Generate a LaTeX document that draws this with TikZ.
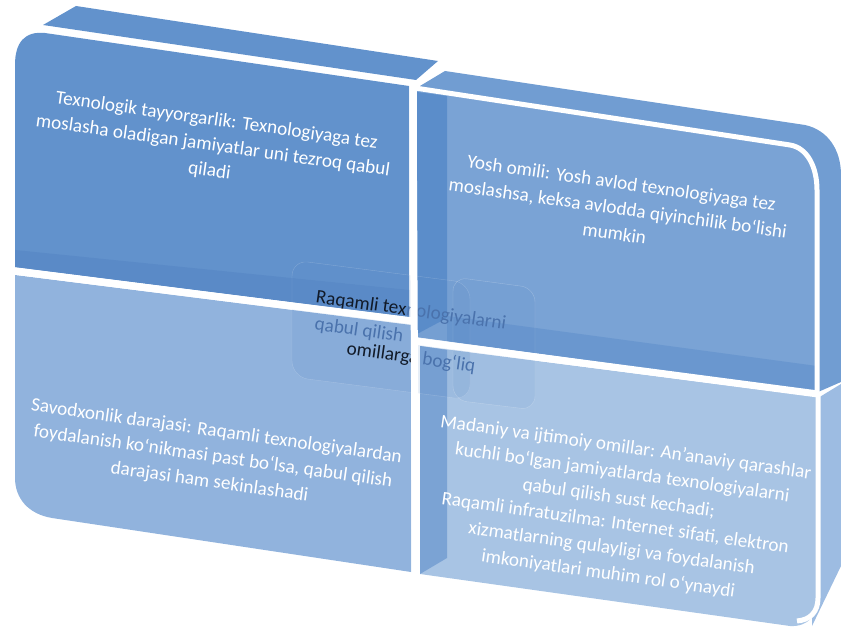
\documentclass[tikz,border=0pt]{standalone}
\usepackage{fontspec}
\setmainfont{Carlito}
\definecolor{tlblue}{HTML}{6292CC}
\definecolor{tldeep}{HTML}{5A8AC7}
\definecolor{trblue}{HTML}{7AA3D5}
\definecolor{trside}{HTML}{719DD2}
\definecolor{trdeep}{HTML}{5B8DCA}
\definecolor{trbase}{HTML}{6A97CF}
\definecolor{blblue}{HTML}{91B3DD}
\definecolor{brblue}{HTML}{A8C4E4}
\definecolor{brside}{HTML}{9DBCE2}
\definecolor{brdeep}{HTML}{7BA3D4}
\definecolor{hubdark}{HTML}{111A28}
\definecolor{hubfade}{HTML}{4A72AC}
\begin{document}
\begin{tikzpicture}[x=1pt,y=-1pt,
  cell/.style={text=white,font=\fontsize{19.2}{25.5}\selectfont,align=center,rotate=-8,inner sep=0pt},
  hub/.style={font=\fontsize{19.2}{25}\selectfont,rotate=-8,inner sep=0pt},
  gap/.style={white,line width=7pt},
  rim/.style={white,line width=5pt},
  ]
\useasboundingbox (0,0) rectangle (841,628);

\fill[tlblue] (43,25) -- (76,6) -- (438,61) -- (416,80) -- cycle;
\fill[tlblue] (15,267) -- (15,65) .. controls (15,42) and (25,31) .. (45,33) -- (409,86) -- (409,317) -- cycle;
\fill[tldeep] (15,250) -- (409,290) -- (409,317) -- (15,267) -- cycle;

\fill[trside] (420,86) -- (445,71) -- (805,125) .. controls (828,130) and (841,150) .. (841,175) -- (841,382) -- (818,392) -- (417,337) -- cycle;
\fill[trblue] (417,90) -- (790,145) .. controls (808,148) and (817,168) .. (817,190) -- (817,390) -- (417,337) -- cycle;
\fill[trdeep] (417,92) -- (447,96) -- (447,318) -- (417,334) -- cycle;
\fill[trbase] (447,316) -- (817,366) -- (817,391) -- (447,341) -- cycle;

\fill[blblue] (15,275) -- (411,325) -- (411,572) -- (52,518) .. controls (28,514) and (15,498) .. (15,478) -- cycle;

\fill[brside] (818,398) -- (841,384) -- (841,566) -- (812,626) -- cycle;
\fill[brblue] (420,346) -- (818,397) -- (818,598) .. controls (818,615) and (808,627) .. (790,626) -- (420,574) -- cycle;
\fill[brdeep] (420,346) -- (447,350) -- (447,558) -- (420,574) -- cycle;

\filldraw[rounded corners=16pt,fill=tldeep,fill opacity=.15,draw=white,draw opacity=.2] (292,260) -- (470,283) -- (470,400) -- (292,377) -- cycle;
\filldraw[rounded corners=14pt,fill=tldeep,fill opacity=.1,draw=white,draw opacity=.25] (453,277) -- (535,288) -- (535,410) -- (453,400) -- cycle;

\node[hub] (hubtop) at (411,311) {\textcolor{hubdark}{Raqamli tex}\textcolor{hubfade}{nologiyalarni}};
\node[hub,text=hubfade] (hubmid) at (359,331) {qabul qilish};
\node[hub] (hubbot) at (411,358) {\textcolor{hubdark}{omillarga} \textcolor{hubfade}{bog‘liq}};

\draw[gap] (13,271) -- (413,321);
\draw[gap] (413,82) -- (415.5,580);
\draw[gap] (415,341) -- (818,394);
\draw[rim] (415,88) -- (790,145) .. controls (808,148) and (817,168) .. (817,190) -- (817,392);
\draw[rim] (818,396) -- (818,598) .. controls (818,612) and (810,620) .. (797,621);

\node[cell] (readiness) at (213,146) {Texnologik tayyorgarlik: Texnologiyaga tez\\moslasha oladigan jamiyatlar uni tezroq qabul\\qiladi};
\node[cell] (youth) at (618,208) {Yosh omili: Yosh avlod texnologiyaga tez\\moslashsa, keksa avlodda qiyinchilik bo‘lishi\\mumkin};
\node[cell] (literacy) at (213,457) {Savodxonlik darajasi: Raqamli texnologiyalardan\\foydalanish ko‘nikmasi past bo‘lsa, qabul qilish\\darajasi ham sekinlashadi};
\node[cell] (culture) at (617,511) {Madaniy va ijtimoiy omillar: An’anaviy qarashlar\\kuchli bo‘lgan jamiyatlarda texnologiyalarni\\qabul qilish sust kechadi;\\Raqamli infratuzilma: Internet sifati, elektron\\xizmatlarning qulayligi va foydalanish\\imkoniyatlari muhim rol o‘ynaydi};
\end{tikzpicture}
\end{document}
